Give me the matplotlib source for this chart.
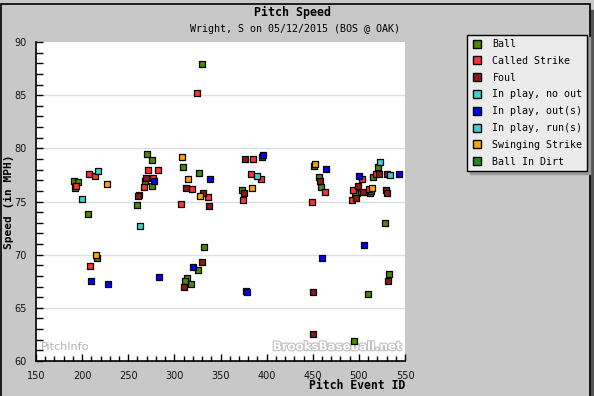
import matplotlib
matplotlib.use("Agg")
import matplotlib.patheffects
from matplotlib import pyplot as plt
from matplotlib.lines import Line2D
from matplotlib.patches import Rectangle

# pitch event id / speed (mph) per pitch result
ball_x = [270.5, 276, 268.4, 191.5, 195.2, 192.6, 276, 259.7, 206.6, 216.4,
          330.1, 309.5, 326.9, 373.4, 332.3, 325.8, 313.9, 311.7, 318.2,
          451.4, 456.8, 459, 520.7, 515.3, 498, 495.8, 512.1, 513.2, 528.3,
          532.6, 509.9, 494.7]
ball_y = [79.5, 78.9, 76.9, 76.9, 76.8, 76.3, 76.5, 74.7, 73.8, 69.7,
          87.9, 78.2, 77.7, 76.1, 70.7, 68.6, 67.8, 67.5, 67.2,
          78.3, 77.3, 76.4, 78.2, 77.3, 75.8, 75.8, 75.8, 76.0, 73.0,
          68.2, 66.3, 61.9]

called_x = [271.6, 282.5, 207.7, 214.2, 277, 193.7, 267.3, 208.8,
            324.7, 319.3, 336.6, 307.4, 385.3, 383.2, 394, 374.6,
            463.3, 449.3, 518.5, 503.4, 493.7, 510.7, 492.6]
called_y = [78.0, 78.0, 77.6, 77.4, 77.2, 76.5, 76.4, 68.9,
            85.2, 76.2, 75.4, 74.8, 79.0, 77.6, 77.1, 75.1,
            75.9, 75.0, 77.6, 77.1, 76.1, 76.2, 75.1]

foul_x = [269.5, 261.9, 260.8, 312.8, 331.2, 337.7, 330.1, 310.6, 376.7,
          395.1, 375.6, 457.9, 521.8, 530.5, 499.1, 504.5, 529.4, 530.5,
          496.9, 531.5, 450.3, 450.3]
foul_y = [77.2, 75.6, 75.5, 76.3, 75.8, 74.6, 69.3, 67.0, 79.0,
          79.2, 75.8, 76.9, 77.6, 77.6, 76.5, 75.9, 76.1, 75.8,
          75.35, 67.5, 66.5, 62.5]

noout_x = [217.5, 200.2, 263, 389.7, 522.9, 533.7]
noout_y = [77.9, 75.2, 72.7, 77.4, 78.7, 77.5]

outs_x = [278.1, 209.9, 228.3, 283.5, 338.8, 396.2, 320.4, 377.8, 378.9,
          464.4, 500.2, 543.5, 505.6, 460.1]
outs_y = [76.9, 67.5, 67.2, 67.9, 77.1, 79.4, 68.8, 66.6, 66.5,
          78.1, 77.4, 77.6, 70.9, 69.7]

runs_x = []
runs_y = []

swing_x = [227.2, 308.5, 315, 328, 384.3, 452.5, 514.3, 215.3]
swing_y = [76.6, 79.2, 77.1, 75.5, 76.3, 78.5, 76.3, 70.0]

dirt_x = []
dirt_y = []

labels = ["Ball", "Called Strike", "Foul", "In play, no out", "In play, out(s)",
          "In play, run(s)", "Swinging Strike", "Ball In Dirt"]
colors = ["#4b8b00", "#ff3333", "#8b1a1a", "#40d0d0", "#0000ff",
          "#40d0d0", "#ffa500", "#228b22"]
series = [(ball_x, ball_y), (called_x, called_y), (foul_x, foul_y),
          (noout_x, noout_y), (outs_x, outs_y), (runs_x, runs_y),
          (swing_x, swing_y), (dirt_x, dirt_y)]

MONO = "DejaVu Sans Mono"
BG = "#c8c8c8"


def main():
    fig = plt.figure(figsize=(5.94, 3.96), dpi=100, facecolor=BG)
    ax = fig.add_axes([36 / 594, 1 - 361 / 396, (405 - 36) / 594, (361 - 42) / 396])
    ax.set_facecolor("white")

    for (xs, ys), c in zip(series, colors):
        if xs:
            ax.scatter(xs, ys, marker="s", s=13, c=c, edgecolors="black",
                       linewidths=0.9, zorder=3)

    ax.set_xlim(150, 550)
    ax.set_ylim(60, 90)
    ax.set_xticks(range(150, 551, 50))
    ax.set_xticks(range(150, 551, 10), minor=True)
    ax.set_yticks(range(60, 91, 5))
    ax.set_yticks(range(60, 91, 1), minor=True)
    for v in range(65, 90, 5):
        ax.axhline(v, color="#dddddd", lw=1, zorder=1)

    ax.tick_params(which="both", direction="in", color="black", width=1)
    ax.tick_params(which="major", length=5, labelsize=7, pad=7,
                   labelcolor="#111111")
    ax.tick_params(which="minor", length=3.5)
    ax.tick_params(axis="y", which="minor", length=5)
    for s in ["top", "right"]:
        ax.spines[s].set_visible(False)
    for s in ["left", "bottom"]:
        ax.spines[s].set_linewidth(1.2)

    ax.set_xlabel("Pitch Event ID", family=MONO, weight="bold", fontsize=8.3,
                  loc="right", labelpad=-1)
    ax.set_ylabel("Speed (in MPH)", family=MONO, weight="bold", fontsize=8,
                  va="center", ha="center")
    ax.yaxis.set_label_coords(-0.073, 0.5)

    fig.text(0.493, 1 - 12 / 396, "Pitch Speed", family=MONO, weight="bold",
             fontsize=8.4, ha="center", va="center")
    fig.text(0.497, 1 - 29 / 396, "Wright, S on 05/12/2015 (BOS @ OAK)",
             family=MONO, fontsize=7.2, ha="center", va="center")

    # watermarks
    ax.text(0.012, 0.045, "PitchInfo", transform=ax.transAxes, color="#b0b0b0",
            fontsize=8, ha="left", va="center", zorder=2)
    ax.text(0.99, 0.045, "BrooksBaseball.net", transform=ax.transAxes,
            color="white", fontsize=8.5, weight="bold", ha="right", va="center",
            zorder=2,
            path_effects=[matplotlib.patheffects.withStroke(linewidth=1.6,
                                                            foreground="#c0c0c0")])

    handles = [Line2D([], [], ls="none", marker="s", markersize=6,
                      markerfacecolor=c, markeredgecolor="black",
                      markeredgewidth=1) for c in colors]
    leg = fig.legend(handles, labels, loc="upper left",
                     bbox_to_anchor=(467 / 594, 1 - 34.5 / 396),
                     prop={"family": MONO, "size": 7.2}, frameon=True,
                     fancybox=False, shadow={"color": "#999999", "alpha": 1},
                     borderpad=0.45, labelspacing=0.68, handlelength=1.0,
                     handletextpad=1.1, borderaxespad=0)
    leg.get_frame().set_edgecolor("black")
    leg.get_frame().set_facecolor("#ebebeb")
    leg.get_frame().set_linewidth(1)

    # frame around the whole image
    fig.patches.append(Rectangle((590 / 594, 0), 4 / 594, 1 - 10 / 396,
                                 transform=fig.transFigure, color="#555555"))
    fig.patches.append(Rectangle((0.5 / 594, -0.01), 589 / 594, 1.0,
                                 transform=fig.transFigure, fill=False,
                                 edgecolor="black", lw=1.2))

    fig.savefig("out.png", dpi=100, facecolor=BG)


if __name__ == '__main__':
    main()
